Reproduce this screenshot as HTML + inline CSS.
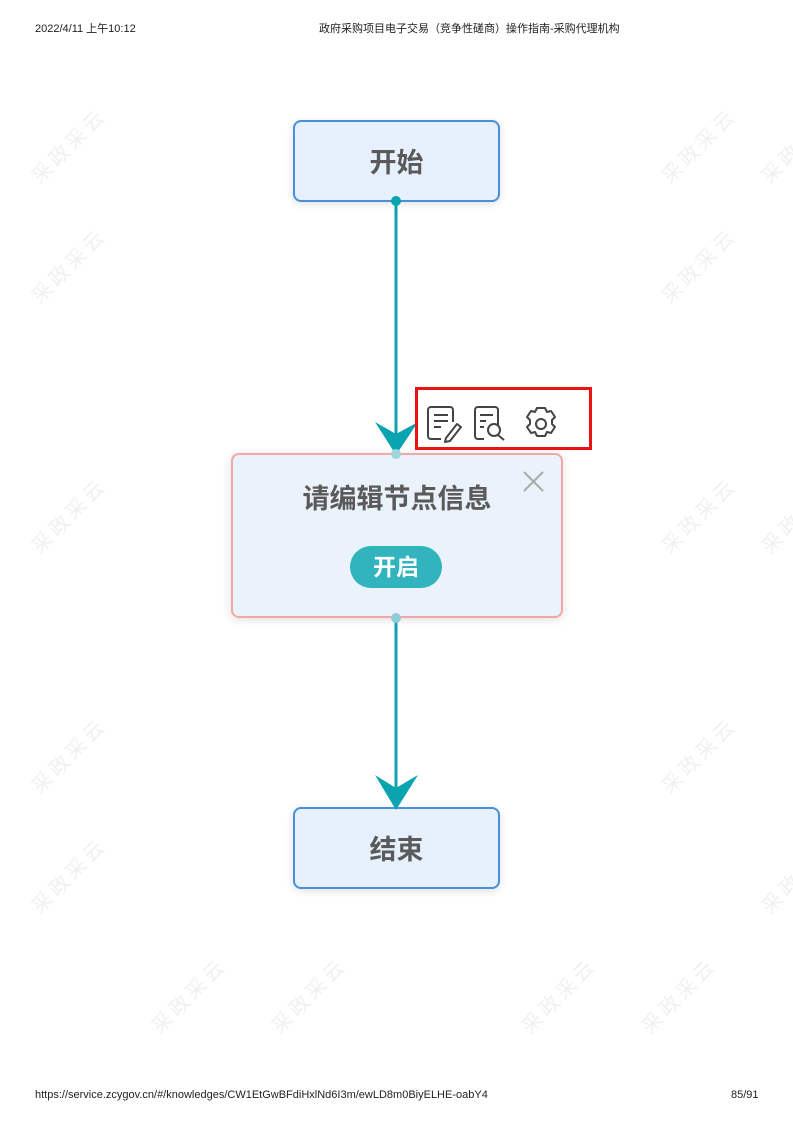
<!DOCTYPE html>
<html><head><meta charset="utf-8"><style>
html,body{margin:0;padding:0;background:#fff;}
body{width:793px;height:1121px;position:relative;overflow:hidden;font-family:"Liberation Sans","Noto Sans CJK SC",sans-serif;}
.t{position:absolute;font-size:11px;color:#222;white-space:nowrap;}
.wm{position:absolute;font-size:20px;color:#f0f0f0;transform:rotate(-45deg);white-space:nowrap;letter-spacing:4px;}
.box{position:absolute;box-sizing:border-box;border-radius:8px;text-align:center;font-weight:bold;color:#5a5a5a;}
</style></head><body>
<div class="t" style="left:35px;top:20px;">2022/4/11 上午10:12</div>
<div class="t" style="left:319px;top:20px;">政府采购项目电子交易（竞争性磋商）操作指南-采购代理机构</div>
<div class="t" style="left:35px;top:1089px;">https://service.zcygov.cn/#/knowledges/CW1EtGwBFdiHxlNd6I3m/ewLD8m0BiyELHE-oabY4</div>
<div class="t" style="left:731px;top:1089px;">85/91</div>

<div class="wm" style="left:20px;top:130px;">采政采云</div>
<div class="wm" style="left:20px;top:250px;">采政采云</div>
<div class="wm" style="left:20px;top:500px;">采政采云</div>
<div class="wm" style="left:20px;top:740px;">采政采云</div>
<div class="wm" style="left:20px;top:860px;">采政采云</div>
<div class="wm" style="left:140px;top:980px;">采政采云</div>
<div class="wm" style="left:260px;top:980px;">采政采云</div>
<div class="wm" style="left:510px;top:980px;">采政采云</div>
<div class="wm" style="left:630px;top:980px;">采政采云</div>
<div class="wm" style="left:650px;top:130px;">采政采云</div>
<div class="wm" style="left:650px;top:250px;">采政采云</div>
<div class="wm" style="left:650px;top:500px;">采政采云</div>
<div class="wm" style="left:650px;top:740px;">采政采云</div>
<div class="wm" style="left:750px;top:130px;">采政采云</div>
<div class="wm" style="left:750px;top:500px;">采政采云</div>
<div class="wm" style="left:750px;top:860px;">采政采云</div>

<div class="box" style="left:293px;top:120px;width:207px;height:82px;background:#e6f1fd;border:2px solid #4a8fdc;box-shadow:0 2px 8px rgba(0,0,0,0.12);font-size:27px;line-height:82px;">开始</div>
<div class="box" style="left:231px;top:453px;width:332px;height:165px;background:#eaf3fc;border:2px solid #f4a7a7;box-shadow:0 2px 10px rgba(0,0,0,0.12);font-size:27px;">
<div style="position:absolute;left:0;right:0;top:26px;line-height:36px;">请编辑节点信息</div>
<div style="position:absolute;left:117px;top:91px;width:92px;height:42px;border-radius:21px;background:#31b4bd;color:#fff;font-size:23px;line-height:42px;">开启</div>
</div>
<div class="box" style="left:293px;top:807px;width:207px;height:82px;background:#e6f1fd;border:2px solid #4a8fdc;box-shadow:0 2px 8px rgba(0,0,0,0.12);font-size:27px;line-height:82px;">结束</div>

<svg width="793" height="1121" style="position:absolute;left:0;top:0;" xmlns="http://www.w3.org/2000/svg">
<line x1="396" y1="201" x2="396" y2="440" stroke="#0aa3b0" stroke-width="3"/>
<circle cx="396" cy="201" r="5" fill="#0aa3b0"/>
<polygon points="375,422 396,434 418,422 396,455" fill="#0aa3b0"/>
<circle cx="396" cy="454" r="5" fill="#9fd6dc"/>
<line x1="396" y1="618" x2="396" y2="790" stroke="#0aa3b0" stroke-width="3"/>
<circle cx="396" cy="618" r="5" fill="#8fcbd6"/>
<polygon points="375,775 396,788 418,775 396,810" fill="#0aa3b0"/>
<g stroke="#aaa" stroke-width="2"><line x1="524" y1="472" x2="543" y2="491"/><line x1="543" y1="472" x2="524" y2="491"/></g>
<rect x="416.5" y="388.5" width="174" height="60" fill="#fff" stroke="#ee1111" stroke-width="3"/>
<g fill="none" stroke="#444" stroke-width="2" stroke-linejoin="round">
<path d="M453,422 V410 a3,3 0 0 0 -3,-3 H431 a3,3 0 0 0 -3,3 V436 a3,3 0 0 0 3,3 H441"/>
<line x1="434" y1="415" x2="448" y2="415"/><line x1="434" y1="421" x2="448" y2="421"/><line x1="434" y1="427" x2="441" y2="427"/>
<path d="M446,438 L457,424 L461,427 L450,441 L445,442 Z"/>
<path d="M498,425 V410 a3,3 0 0 0 -3,-3 H478 a3,3 0 0 0 -3,3 V436 a3,3 0 0 0 3,3 H484"/>
<line x1="480" y1="415" x2="493" y2="415"/><line x1="480" y1="421" x2="486" y2="421"/><line x1="480" y1="427" x2="484" y2="427"/>
<circle cx="494" cy="430" r="6"/><line x1="498" y1="435" x2="504" y2="440"/>
<path d="M537,408 h8 l2,4 4,-1 4,6 -3,3 0,4 3,3 -4,6 -4,-1 -2,4 h-8 l-2,-4 -4,1 -4,-6 3,-3 0,-4 -3,-3 4,-6 4,1 z"/>
<circle cx="541" cy="424" r="5"/>
</g>
</svg>
</body></html>
